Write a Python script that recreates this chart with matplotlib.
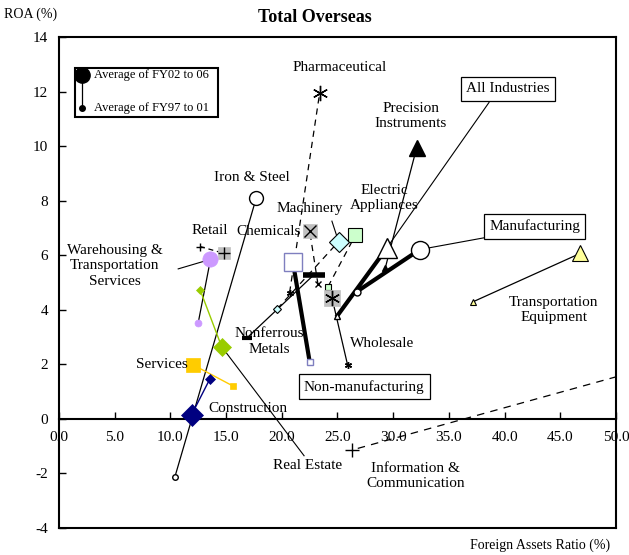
import matplotlib
matplotlib.use("Agg")
import matplotlib.pyplot as plt
from matplotlib.patches import Rectangle

plt.rcParams['font.family'] = ['Liberation Serif', 'DejaVu Serif']

# Foreign assets ratio (x) and ROA (y), FY97-01 average vs FY02-06 average
industries = ['All Industries', 'Manufacturing', 'Non-manufacturing',
              'Precision Instruments', 'Transportation Equipment',
              'Electric Appliances', 'Machinery', 'Chemicals', 'Pharmaceutical',
              'Nonferrous Metals', 'Wholesale', 'Iron & Steel', 'Retail',
              'Warehousing', 'Real Estate', 'Services', 'Construction',
              'Information & Communication']
x_old = [25.0, 26.75, 22.5, 29.3, 37.2, 24.15, 19.6, 23.25, 20.7,
         16.9, 25.9, 10.4, 12.66, 12.5, 12.66, 15.6, 13.55, 62.0]
y_old = [3.79, 4.67, 2.10, 5.55, 4.30, 4.85, 4.04, 4.93, 4.63,
         2.98, 1.99, -2.13, 6.32, 3.53, 4.74, 1.21, 1.47, 2.90]
x_new = [29.4, 32.4, 21.0, 32.1, 46.8, 26.6, 25.1, 22.5, 23.4,
         22.9, 24.5, 17.7, 14.8, 13.6, 14.6, 12.0, 11.9, 26.3]
y_new = [6.25, 6.21, 5.74, 9.93, 6.07, 6.73, 6.50, 6.90, 11.95,
         5.29, 4.45, 8.09, 6.07, 5.85, 2.65, 1.99, 0.15, -1.14]

x_ticks = [0, 5, 10, 15, 20, 25, 30, 35, 40, 45, 50]
y_ticks = [-4, -2, 0, 2, 4, 6, 8, 10, 12, 14]

GRAY = '#c0c0c0'
BLUE_EDGE = '#7f7fbf'

# line style per industry: (linestyle, linewidth, color)
line_style = {
    'All Industries': ('-', 3.0, 'black'),
    'Manufacturing': ('-', 3.0, 'black'),
    'Non-manufacturing': ('-', 3.0, 'black'),
    'Precision Instruments': ('-', 0.9, 'black'),
    'Transportation Equipment': ('-', 0.9, 'black'),
    'Electric Appliances': ((0, (5, 4)), 0.9, 'black'),
    'Machinery': ((0, (5, 4)), 0.9, 'black'),
    'Chemicals': ((0, (5, 4)), 0.9, 'black'),
    'Pharmaceutical': ((0, (5, 4)), 0.9, 'black'),
    'Nonferrous Metals': ('-', 0.9, 'black'),
    'Wholesale': ('-', 0.9, 'black'),
    'Iron & Steel': ('-', 0.9, 'black'),
    'Retail': ((0, (4, 3)), 0.9, 'black'),
    'Warehousing': ('-', 0.9, 'black'),
    'Real Estate': ('-', 1.0, '#99cc00'),
    'Services': ('-', 1.0, '#ffcc00'),
    'Construction': ('-', 1.0, '#000080'),
    'Information & Communication': ((0, (6, 5)), 0.9, 'black'),
}

# marker layers per industry: list of (marker, size_new, size_old, face, edge, mew)
marker_style = {
    'All Industries': [('^', 14, 5, 'white', 'black', 1.0)],
    'Manufacturing': [('o', 13, 5, 'white', 'black', 1.0)],
    'Non-manufacturing': [('s', 13, 5, 'white', BLUE_EDGE, 1.0)],
    'Precision Instruments': [('^', 11, 5, 'black', 'black', 1.0)],
    'Transportation Equipment': [('^', 11, 5, '#ffff99', 'black', 0.8)],
    'Electric Appliances': [('s', 9.5, 4.5, '#ccffcc', 'black', 0.8)],
    'Machinery': [('D', 10, 4.5, '#ccffff', 'black', 0.8)],
    'Chemicals': [('s', 10, 0, GRAY, GRAY, 0.5), ('x', 9, 5, 'black', 'black', 1.0)],
    'Pharmaceutical': [((6, 2, 0), 11, 5, 'black', 'black', 1.0)],
    'Nonferrous Metals': [('_', 16, 7, 'black', 'black', 4.0)],
    'Wholesale': [('s', 11, 0, GRAY, GRAY, 0.5), ((6, 2, 0), 11, 5, 'black', 'black', 1.0)],
    'Iron & Steel': [('o', 10, 4, 'white', 'black', 1.0)],
    'Retail': [('s', 8, 0, GRAY, GRAY, 0.5), ('+', 9, 6, 'black', 'black', 1.0)],
    'Warehousing': [('o', 11, 5, '#cc99ff', '#cc99ff', 0.5)],
    'Real Estate': [('D', 9, 4.5, '#99cc00', '#99cc00', 0.5)],
    'Services': [('s', 10, 4.5, '#ffcc00', '#ffcc00', 0.5)],
    'Construction': [('D', 11, 5, '#000080', '#000080', 0.5)],
    'Information & Communication': [('+', 10, 6, 'black', 'black', 1.0)],
}

# label text, position, boxed, leader-line start (or None)
labels = {
    'All Industries': ('All Industries', (40.3, 12.1), True, (38.6, 11.6)),
    'Manufacturing': ('Manufacturing', (42.7, 7.06), True, (38.3, 6.65)),
    'Non-manufacturing': ('Non-manufacturing', (27.4, 1.18), True, None),
    'Precision Instruments': ('Precision\nInstruments', (31.6, 11.1), False, None),
    'Transportation Equipment': ('Transportation\nEquipment', (44.4, 4.0), False, None),
    'Electric Appliances': ('Electric\nAppliances', (29.2, 8.09), False, None),
    'Machinery': ('Machinery', (22.5, 7.72), False, (24.5, 7.25)),
    'Chemicals': ('Chemicals', (18.8, 6.88), False, None),
    'Pharmaceutical': ('Pharmaceutical', (25.2, 12.87), False, None),
    'Nonferrous Metals': ('Nonferrous\nMetals', (18.9, 2.83), False, None),
    'Wholesale': ('Wholesale', (29.0, 2.76), False, None),
    'Iron & Steel': ('Iron & Steel', (17.3, 8.86), False, None),
    'Retail': ('Retail', (13.5, 6.92), False, None),
    'Warehousing': ('Warehousing &\nTransportation\nServices', (5.0, 5.62), False, (10.7, 5.5)),
    'Real Estate': ('Real Estate', (22.3, -1.72), False, (22.0, -1.35)),
    'Services': ('Services', (9.2, 2.0), False, None),
    'Construction': ('Construction', (17.0, 0.4), False, None),
    'Information & Communication': ('Information &\nCommunication', (32.0, -2.1), False, None),
}

fig = plt.figure(figsize=(6.29, 5.55), dpi=100)
ax = fig.add_axes([0.0938, 0.0486, 0.8855, 0.8847])

for i, name in enumerate(industries):
    ls, lw, col = line_style[name]
    ax.plot([x_old[i], x_new[i]], [y_old[i], y_new[i]], linestyle=ls,
            linewidth=lw, color=col, zorder=2)

for i, name in enumerate(industries):
    for mk, s_new, s_old, fc, ec, mew in marker_style[name]:
        ax.plot(x_new[i], y_new[i], marker=mk, markersize=s_new,
                markerfacecolor=fc, markeredgecolor=ec, markeredgewidth=mew,
                linestyle='none', zorder=4)
        if s_old > 0:
            ax.plot(x_old[i], y_old[i], marker=mk, markersize=s_old,
                    markerfacecolor=fc, markeredgecolor=ec,
                    markeredgewidth=min(mew, 1.5 if mk != '_' else 3.0),
                    linestyle='none', zorder=4)

for i, name in enumerate(industries):
    text, pos, boxed, lead = labels[name]
    bbox = dict(boxstyle='square,pad=0.35', fc='white', ec='black', lw=0.9) if boxed else None
    ax.text(pos[0], pos[1], text, ha='center', va='center', fontsize=11,
            linespacing=1.25, bbox=bbox, zorder=6)
    if lead is not None:
        ax.plot([lead[0], x_new[i]], [lead[1], y_new[i]], color='black',
                linewidth=0.8, zorder=3, clip_on=False)

# legend drawn by hand in the upper left corner
ax.add_patch(Rectangle((0.029, 0.838), 0.257, 0.098, transform=ax.transAxes,
                       facecolor='white', edgecolor='black', lw=1.5, zorder=7))
ax.plot([0.041, 0.041], [0.855, 0.922], transform=ax.transAxes, color='black',
        lw=0.9, zorder=8)
ax.plot(0.041, 0.922, 'o', color='black', markersize=11, transform=ax.transAxes, zorder=8)
ax.plot(0.041, 0.855, 'o', color='black', markersize=4, transform=ax.transAxes, zorder=8)
ax.text(0.062, 0.922, 'Average of FY02 to 06', transform=ax.transAxes,
        fontsize=9, va='center', zorder=8)
ax.text(0.062, 0.855, 'Average of FY97 to 01', transform=ax.transAxes,
        fontsize=9, va='center', zorder=8)

ax.set_xlim(0, 50)
ax.set_ylim(-4, 14)
ax.set_xticks(x_ticks)
ax.set_xticklabels([f'{v:.1f}' for v in x_ticks])
ax.set_yticks(y_ticks)
ax.set_yticklabels([str(v) for v in y_ticks])
ax.tick_params(direction='in', length=5, width=1, labelsize=11, pad=9)
ax.tick_params(axis='y', pad=8)

for side in ['top', 'right', 'left', 'bottom']:
    ax.spines[side].set_linewidth(1.5)
ax.spines['bottom'].set_position(('data', 0))
ax.axhline(-4, color='black', lw=1.5, clip_on=False, zorder=5)

fig.text(0.5, 0.968, 'Total Overseas', ha='center', va='center',
         fontsize=13, fontweight='bold')
fig.text(0.048, 0.975, 'ROA (%)', ha='center', va='center', fontsize=10)
fig.text(0.858, 0.018, 'Foreign Assets Ratio (%)', ha='center', va='center', fontsize=10)

fig.savefig('out.png', dpi=100)
